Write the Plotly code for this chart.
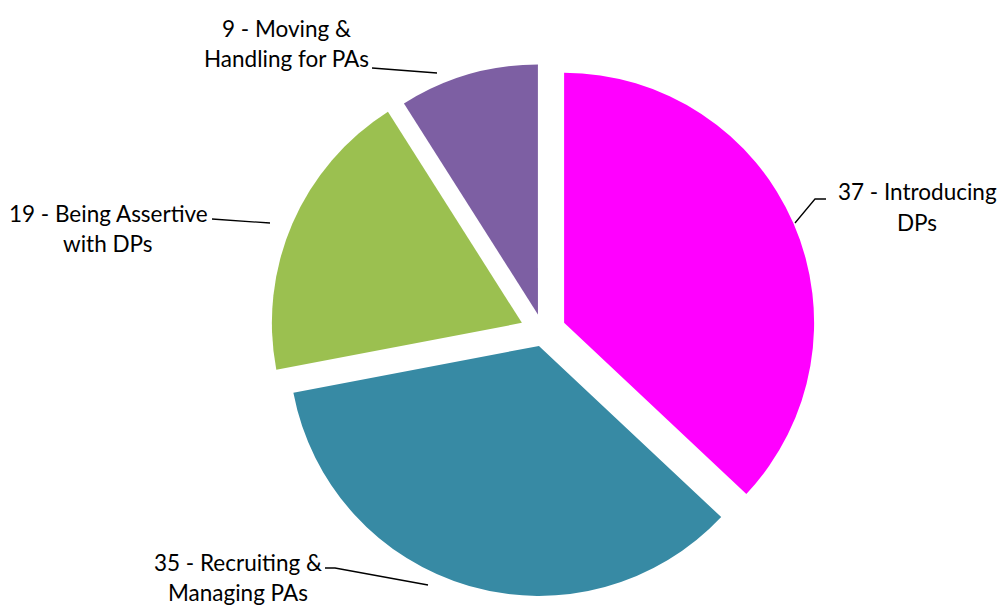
import plotly.graph_objects as go

W, H = 1007, 608
OFF = 8  # page body margin offset (screen pixels)

# Data
categories = ["Introducing DPs", "Recruiting & Managing PAs", "Being Assertive with DPs", "Moving & Handling for PAs"]
values = [37, 35, 19, 9]
label_lines = [["37 - Introducing", "DPs"], ["35 - Recruiting &", "Managing PAs"],
               ["19 - Being Assertive", "with DPs"], ["9 - Moving &", "Handling for PAs"]]

# Styles / layout positions (screen pixels)
colors = ["#FF00FF", "#378AA4", "#9BC050", "#7D5FA3"]
pulls = [0.092, 0.058, 0.092, 0.073]
label_pos = [(917, 207), (238, 577), (108, 228), (286, 44)]
line_gap = 30
leaders = [
    [(826, 199), (815, 199), (795, 223)],
    [(325, 568), (335, 568), (428, 585)],
    [(212, 219), (270, 223)],
    [(372, 68), (437, 73)],
]

def px(x):
    return (x - OFF) / W

def py(y):
    return 1 - (y - OFF) / H

cx, cy, r = 543, 332, 250
half = r * (1 + max(pulls))

fig = go.Figure(go.Pie(
    labels=categories,
    values=values,
    sort=False,
    direction="clockwise",
    rotation=0,
    pull=pulls,
    marker=dict(colors=colors, line=dict(width=0)),
    textinfo="none",
    hoverinfo="label+value",
    showlegend=False,
    domain=dict(x=[px(cx - 300), px(cx + 300)], y=[py(cy + half), py(cy - half)]),
))

for lines, (x, y) in zip(label_lines, label_pos):
    for i, t in enumerate(lines):
        yy = y + (i - 0.5) * line_gap
        fig.add_annotation(x=px(x), y=py(yy), xref="paper", yref="paper", text=t,
                           showarrow=False, align="center", xanchor="center", yanchor="middle",
                           font=dict(family="Lato", size=22.5, color="#000000"))

for pts in leaders:
    path = "M " + " L ".join(f"{px(x)},{py(y)}" for x, y in pts)
    fig.add_shape(type="path", xref="paper", yref="paper", path=path,
                  line=dict(color="#000000", width=1.3))

fig.update_layout(width=W, height=H, margin=dict(l=0, r=0, t=0, b=0),
                  paper_bgcolor="white", plot_bgcolor="white")
fig.write_html("out.html")
